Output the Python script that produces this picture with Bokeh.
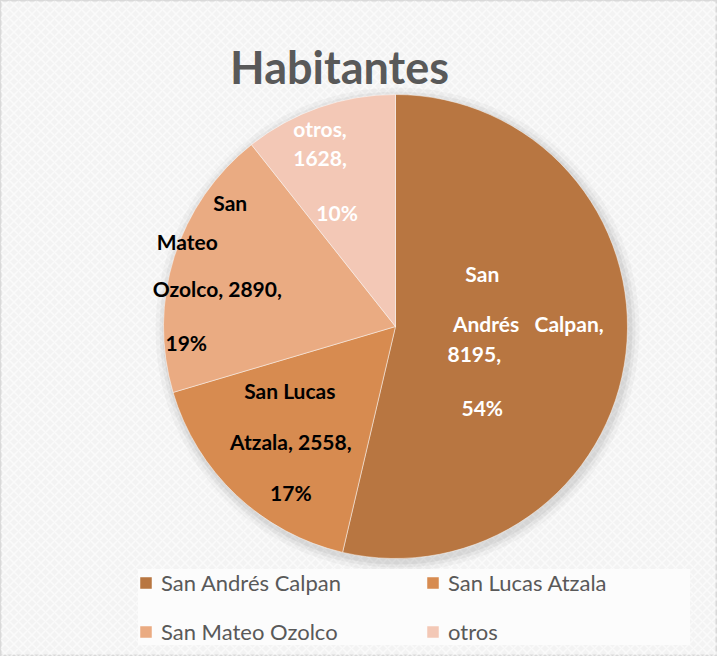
import math
from bokeh.plotting import figure
from bokeh.models import ColumnDataSource, Range1d, Label
from bokeh.core.properties import value
from bokeh.embed import file_html
from bokeh.resources import INLINE

# ---- data ----
names = ["San Andrés Calpan", "San Lucas Atzala", "San Mateo Ozolco", "otros"]
values = [8195, 2558, 2890, 1628]
pct_labels = ["54%", "17%", "19%", "10%"]
name_lines = [["San", "Andrés\u00a0\u00a0\u00a0Calpan,"], ["San Lucas", "Atzala,"],
              ["San", "Mateo", "Ozolco,"], ["otros,"]]
colors = ["#B87641", "#D78B50", "#EAAB82", "#F3C8B6"]
label_colors = ["white", "black", "black", "white"]

# ---- layout ----
W, H = 717, 656
cx, cy, R = 395, 330, 232
radial = [0.42, 0.67, 0.86, 0.74]
# per-line pixel offsets (dx, dy downwards) from each label anchor
line_offsets = [
    [(-10, -64), (36, -14), (-18, 17), (-10, 70)],
    [(1, -49), (2, 2), (2, 53)],
    [(25, -64), (-18, -25), (12, 22), (-19, 76)],
    [(-19, -36), (-19, -6), (-2, 48)],
]

total = sum(values)
starts, ends, mids = [], [], []
a = math.pi / 2
for v in values:
    span = 2 * math.pi * v / total
    starts.append(a)
    ends.append(a - span)
    mids.append(a - span / 2)
    a -= span

p = figure(width=W, height=H, output_backend="svg", toolbar_location=None,
           x_range=Range1d(0, W), y_range=Range1d(0, H),
           x_axis_location=None, y_axis_location=None, min_border=0,
           background_fill_color="#f3f3f3", border_fill_color="#f3f3f3",
           outline_line_color="#d9d9d9", outline_line_width=2)
p.grid.visible = False

# subtle texture
p.quad(left=0, right=W, bottom=0, top=H, fill_color=None, line_color=None,
       hatch_pattern="diagonal_cross", hatch_color="white", hatch_alpha=0.6,
       hatch_scale=9, hatch_weight=1.5)

# soft shadow
for dr, al in [(10, 0.03), (6, 0.04), (3, 0.05)]:
    p.circle(x=[cx + 2], y=[cy - 3], radius=R + dr, fill_color="#000000",
             fill_alpha=al, line_color=None)

src = ColumnDataSource(dict(name=names, value=values, start=starts, end=ends, color=colors))
p.wedge(x=cx, y=cy, radius=R, start_angle="end", end_angle="start",
        fill_color="color", line_color="white", line_width=0.8, line_alpha=0.6,
        source=src, legend_field="name")

# labels
tx, ty, tt, tc = [], [], [], []
for i in range(len(values)):
    ax = cx + radial[i] * R * math.cos(mids[i])
    ay = cy + radial[i] * R * math.sin(mids[i])
    if i == 0:
        lines = [name_lines[0][0], name_lines[0][1], f"{values[0]},", pct_labels[0]]
    elif i == 3:
        lines = [name_lines[3][0], f"{values[3]},", pct_labels[3]]
    else:
        lines = list(name_lines[i])
        lines[-1] = lines[-1] + " " + f"{values[i]},"
        lines = lines + [pct_labels[i]]
    for ln, (dx, dy) in zip(lines, line_offsets[i]):
        tx.append(ax + dx)
        ty.append(ay - dy)
        tt.append(ln)
        tc.append(label_colors[i])

p.text(x=tx, y=ty, text=tt, text_color=tc, text_font=value("Lato"),
       text_font_style="bold", text_font_size="21px",
       text_align="center", text_baseline="middle")

p.add_layout(Label(x=339, y=590, text="Habitantes", text_font="Lato",
                   text_font_style="bold", text_font_size="45px",
                   text_color="#595959", text_align="center",
                   text_baseline="middle"))

lg = p.legend[0]
lg.location = (138, 11)
lg.orientation = "horizontal"
lg.ncols = 2
lg.label_text_font = "Lato"
lg.label_text_font_size = "22px"
lg.label_text_color = "#595959"
lg.glyph_width = 15
lg.glyph_height = 15
lg.label_standoff = 8
lg.label_width = 242
lg.label_height = 24
lg.spacing = 22
lg.padding = 7
lg.margin = 0
lg.background_fill_color = "#fcfcfc"
lg.background_fill_alpha = 1
lg.border_line_color = None

open("out.html", "w").write(file_html(p, INLINE))
